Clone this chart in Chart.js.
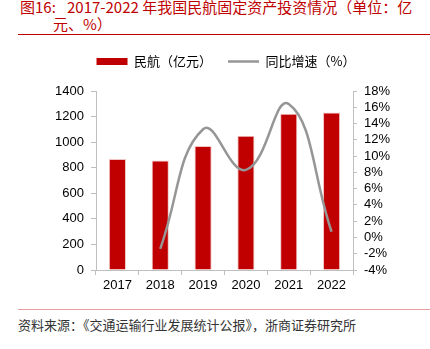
<!DOCTYPE html>
<html>
<head>
<meta charset="utf-8">
<script src="https://cdn.jsdelivr.net/npm/chart.js@4"></script>
<style>
  html, body { margin: 0; padding: 0; background: #fff; }
  body { width: 430px; height: 349px; position: relative; overflow: hidden; font-family: "Noto Sans CJK SC", sans-serif; }
  .title { position: absolute; color: #C00000; font-size: 15px; line-height: 17px; white-space: nowrap; }
  .rule { position: absolute; left: 18px; right: 0; height: 1px; }
  #wrap { position: absolute; left: 0; top: 39px; width: 430px; height: 263px; }
  .source { position: absolute; left: 18px; top: 315px; font-size: 13px; color: #333; white-space: nowrap; }
</style>
</head>
<body>
<div class="title" style="left:20px; top:-2px;">图16:</div>
<div class="title" style="left:67px; top:-2px;">2017-2022 年我国民航固定资产投资情况（单位：亿</div>
<div class="title" style="left:53px; top:15px;">元、%）</div>
<div class="rule" style="top:34px; background:#C00000;"></div>
<div id="wrap"><canvas id="c"></canvas></div>
<div class="rule" style="top:309px; background:#E8A0A0;"></div>
<div class="source">资料来源：《交通运输行业发展统计公报》，浙商证券研究所</div>
<script>
const years = ["2017", "2018", "2019", "2020", "2021", "2022"];
const investment = [868, 856, 970, 1050, 1222, 1231];
const growth = [null, -1.4, 13.3, 8.3, 16.4, 0.7];

const axisGray = "#BFBFBF";
const tickFont = { family: "'Liberation Sans', Arial, sans-serif", size: 13 };

// push the plot area further below the legend
const legendGap = {
  id: "legendGap",
  beforeInit(chart) {
    const fit = chart.legend.fit;
    chart.legend.fit = function () {
      fit.call(this);
      this.height += 13;
    };
  },
};

new Chart(document.getElementById("c"), {
  data: {
    labels: years,
    datasets: [
      {
        type: "line",
        label: "同比增速（%）",
        data: growth,
        yAxisID: "y1",
        borderColor: "#969696",
        borderWidth: 2.5,
        pointRadius: 0,
        tension: 0.45,
        order: 0,
      },
      {
        type: "bar",
        label: "民航（亿元）",
        data: investment,
        yAxisID: "y",
        backgroundColor: "#C00000",
        borderColor: "#F2C4C4",
        borderWidth: 1,
        barPercentage: 0.4,
        categoryPercentage: 1,
        order: 1,
      },
    ],
  },
  options: {
    responsive: true,
    maintainAspectRatio: false,
    animation: false,
    layout: { padding: { left: 22, right: 0, top: 0, bottom: 0 } },
    plugins: {
      legend: {
        position: "top",
        labels: {
          usePointStyle: true,
          pointStyleWidth: 31,
          boxHeight: 7,
          padding: 16,
          color: "#000",
          font: { family: "'Noto Sans CJK SC', sans-serif", size: 13 },
          generateLabels: () => [
            { text: "民航（亿元）", fillStyle: "#C00000", strokeStyle: "#C00000", lineWidth: 0, pointStyle: "rect", datasetIndex: 1 },
            { text: "同比增速（%）", fillStyle: "#969696", strokeStyle: "#969696", lineWidth: 2.5, pointStyle: "line", datasetIndex: 0 },
          ],
        },
      },
      tooltip: { enabled: false },
    },
    scales: {
      x: {
        offset: true,
        grid: { offset: true, drawOnChartArea: false, drawTicks: true, tickLength: 5, color: axisGray },
        border: { color: axisGray },
        ticks: { color: "#000", font: tickFont, padding: 3 },
        afterFit: (s) => { s.height = 32; },
      },
      y: {
        position: "left",
        min: 0,
        max: 1400,
        ticks: { stepSize: 200, color: "#000", font: tickFont, padding: 7, autoSkip: false, callback: (v) => String(v) },
        grid: { drawOnChartArea: false, drawTicks: true, tickLength: 5, color: axisGray },
        border: { color: axisGray },
        afterFit: (s) => { s.width = 74; },
      },
      y1: {
        position: "right",
        min: -4,
        max: 18,
        ticks: { stepSize: 2, color: "#000", font: tickFont, padding: 7, autoSkip: false, callback: (v) => v + "%" },
        grid: { drawOnChartArea: false, drawTicks: true, tickLength: 4, color: axisGray },
        border: { color: axisGray },
        afterFit: (s) => { s.width = 77; },
      },
    },
  },
  plugins: [legendGap],
});
</script>
</body>
</html>
